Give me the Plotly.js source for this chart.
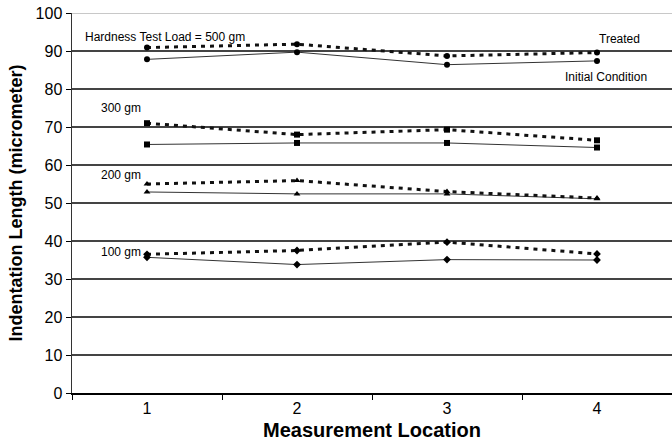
<!DOCTYPE html>
<html><head><meta charset="utf-8">
<script src="https://cdn.plot.ly/plotly-3.0.1.min.js"></script>
<style>html,body{margin:0;padding:0;background:#fff}#chart{width:672px;height:446px}</style>
</head><body><div id="chart"></div>
<script>
const locations = ['1', '2', '3', '4'];
const loads = ['500 gm', '300 gm', '200 gm', '100 gm'];
const symbols = ['circle', 'square', 'triangle-up', 'diamond'];
const treated500 = [90.9, 91.8, 88.7, 89.6];
const initial500 = [87.8, 89.7, 86.4, 87.4];
const treated300 = [71.0, 68.0, 69.3, 66.5];
const initial300 = [65.4, 65.8, 65.8, 64.6];
const treated200 = [55.0, 55.9, 53.0, 51.3];
const initial200 = [52.9, 52.4, 52.4, 51.1];
const treated100 = [36.5, 37.5, 39.7, 36.6];
const initial100 = [35.7, 33.8, 35.1, 35.0];

const treatedSets = [treated500, treated300, treated200, treated100];
const initialSets = [initial500, initial300, initial200, initial100];

const traces = [];
loads.forEach((ld, i) => {
  traces.push({
    x: locations, y: initialSets[i], type: 'scatter', mode: 'lines+markers',
    name: 'Initial ' + ld, showlegend: false,
    line: {color: '#333', width: 1},
    marker: {symbol: symbols[i], color: '#000', size: 6}
  });
  traces.push({
    x: locations, y: treatedSets[i], type: 'scatter', mode: 'lines+markers',
    name: 'Treated ' + ld, showlegend: false,
    line: {color: '#111', width: 3, dash: '4px,5px'},
    marker: {symbol: symbols[i], color: '#000', size: 6}
  });
});

function annFont() { return {family: 'Liberation Sans, Arial, sans-serif', size: 12, color: '#000000'}; }
const layout = {
  width: 672, height: 446,
  margin: {l: 72, r: 0, t: 13, b: 53},
  paper_bgcolor: '#fff', plot_bgcolor: '#fff',
  showlegend: false,
  font: {family: 'Liberation Sans, Arial, sans-serif', color: '#000'},
  xaxis: {
    type: 'category', range: [-0.5, 3.5],
    tickson: 'boundaries', ticks: 'outside', ticklen: 5, tickcolor: '#000',
    showline: true, linecolor: '#000', linewidth: 1.5,
    showgrid: false, zeroline: false,
    tickfont: {size: 16},
    title: {text: 'Measurement Location', font: {size: 20, weight: 'bold'}, standoff: 7}
  },
  yaxis: {
    range: [0, 100], tickvals: [0,10,20,30,40,50,60,70,80,90,100],
    ticks: 'outside', ticklen: 5, tickcolor: '#000',
    showline: true, linecolor: '#333', linewidth: 1.5,
    showgrid: true, gridcolor: '#444', gridwidth: 1.2, zeroline: false,
    tickfont: {size: 16},
    title: {text: 'Indentation Length (micrometer)', font: {size: 18, weight: 'bold'}, standoff: 8}
  },
  shapes: [
    {type: 'line', xref: 'paper', yref: 'y', x0: 0, x1: 1, y0: 100, y1: 100,
     line: {color: '#c8c8c8', width: 2}, layer: 'above'}
  ],
  annotations: [
    {text: 'Hardness Test Load = 500 gm', x: -0.427, y: 93.7, xref: 'x', yref: 'y', xanchor: 'left', showarrow: false, font: annFont()},
    {text: '300 gm', x: -0.03, y: 75.1, xref: 'x', yref: 'y', xanchor: 'right', showarrow: false, font: annFont()},
    {text: '200 gm', x: -0.03, y: 57.4, xref: 'x', yref: 'y', xanchor: 'right', showarrow: false, font: annFont()},
    {text: '100 gm', x: -0.03, y: 37.0, xref: 'x', yref: 'y', xanchor: 'right', showarrow: false, font: annFont()},
    {text: 'Treated', x: 3.0, y: 93.2, xref: 'x', yref: 'y', xanchor: 'left', showarrow: false, font: annFont()},
    {text: 'Initial Condition', x: 2.77, y: 83.1, xref: 'x', yref: 'y', xanchor: 'left', showarrow: false, font: annFont()}
  ]
};
Plotly.newPlot('chart', traces, layout, {staticPlot: true, displayModeBar: false});
</script></body></html>
